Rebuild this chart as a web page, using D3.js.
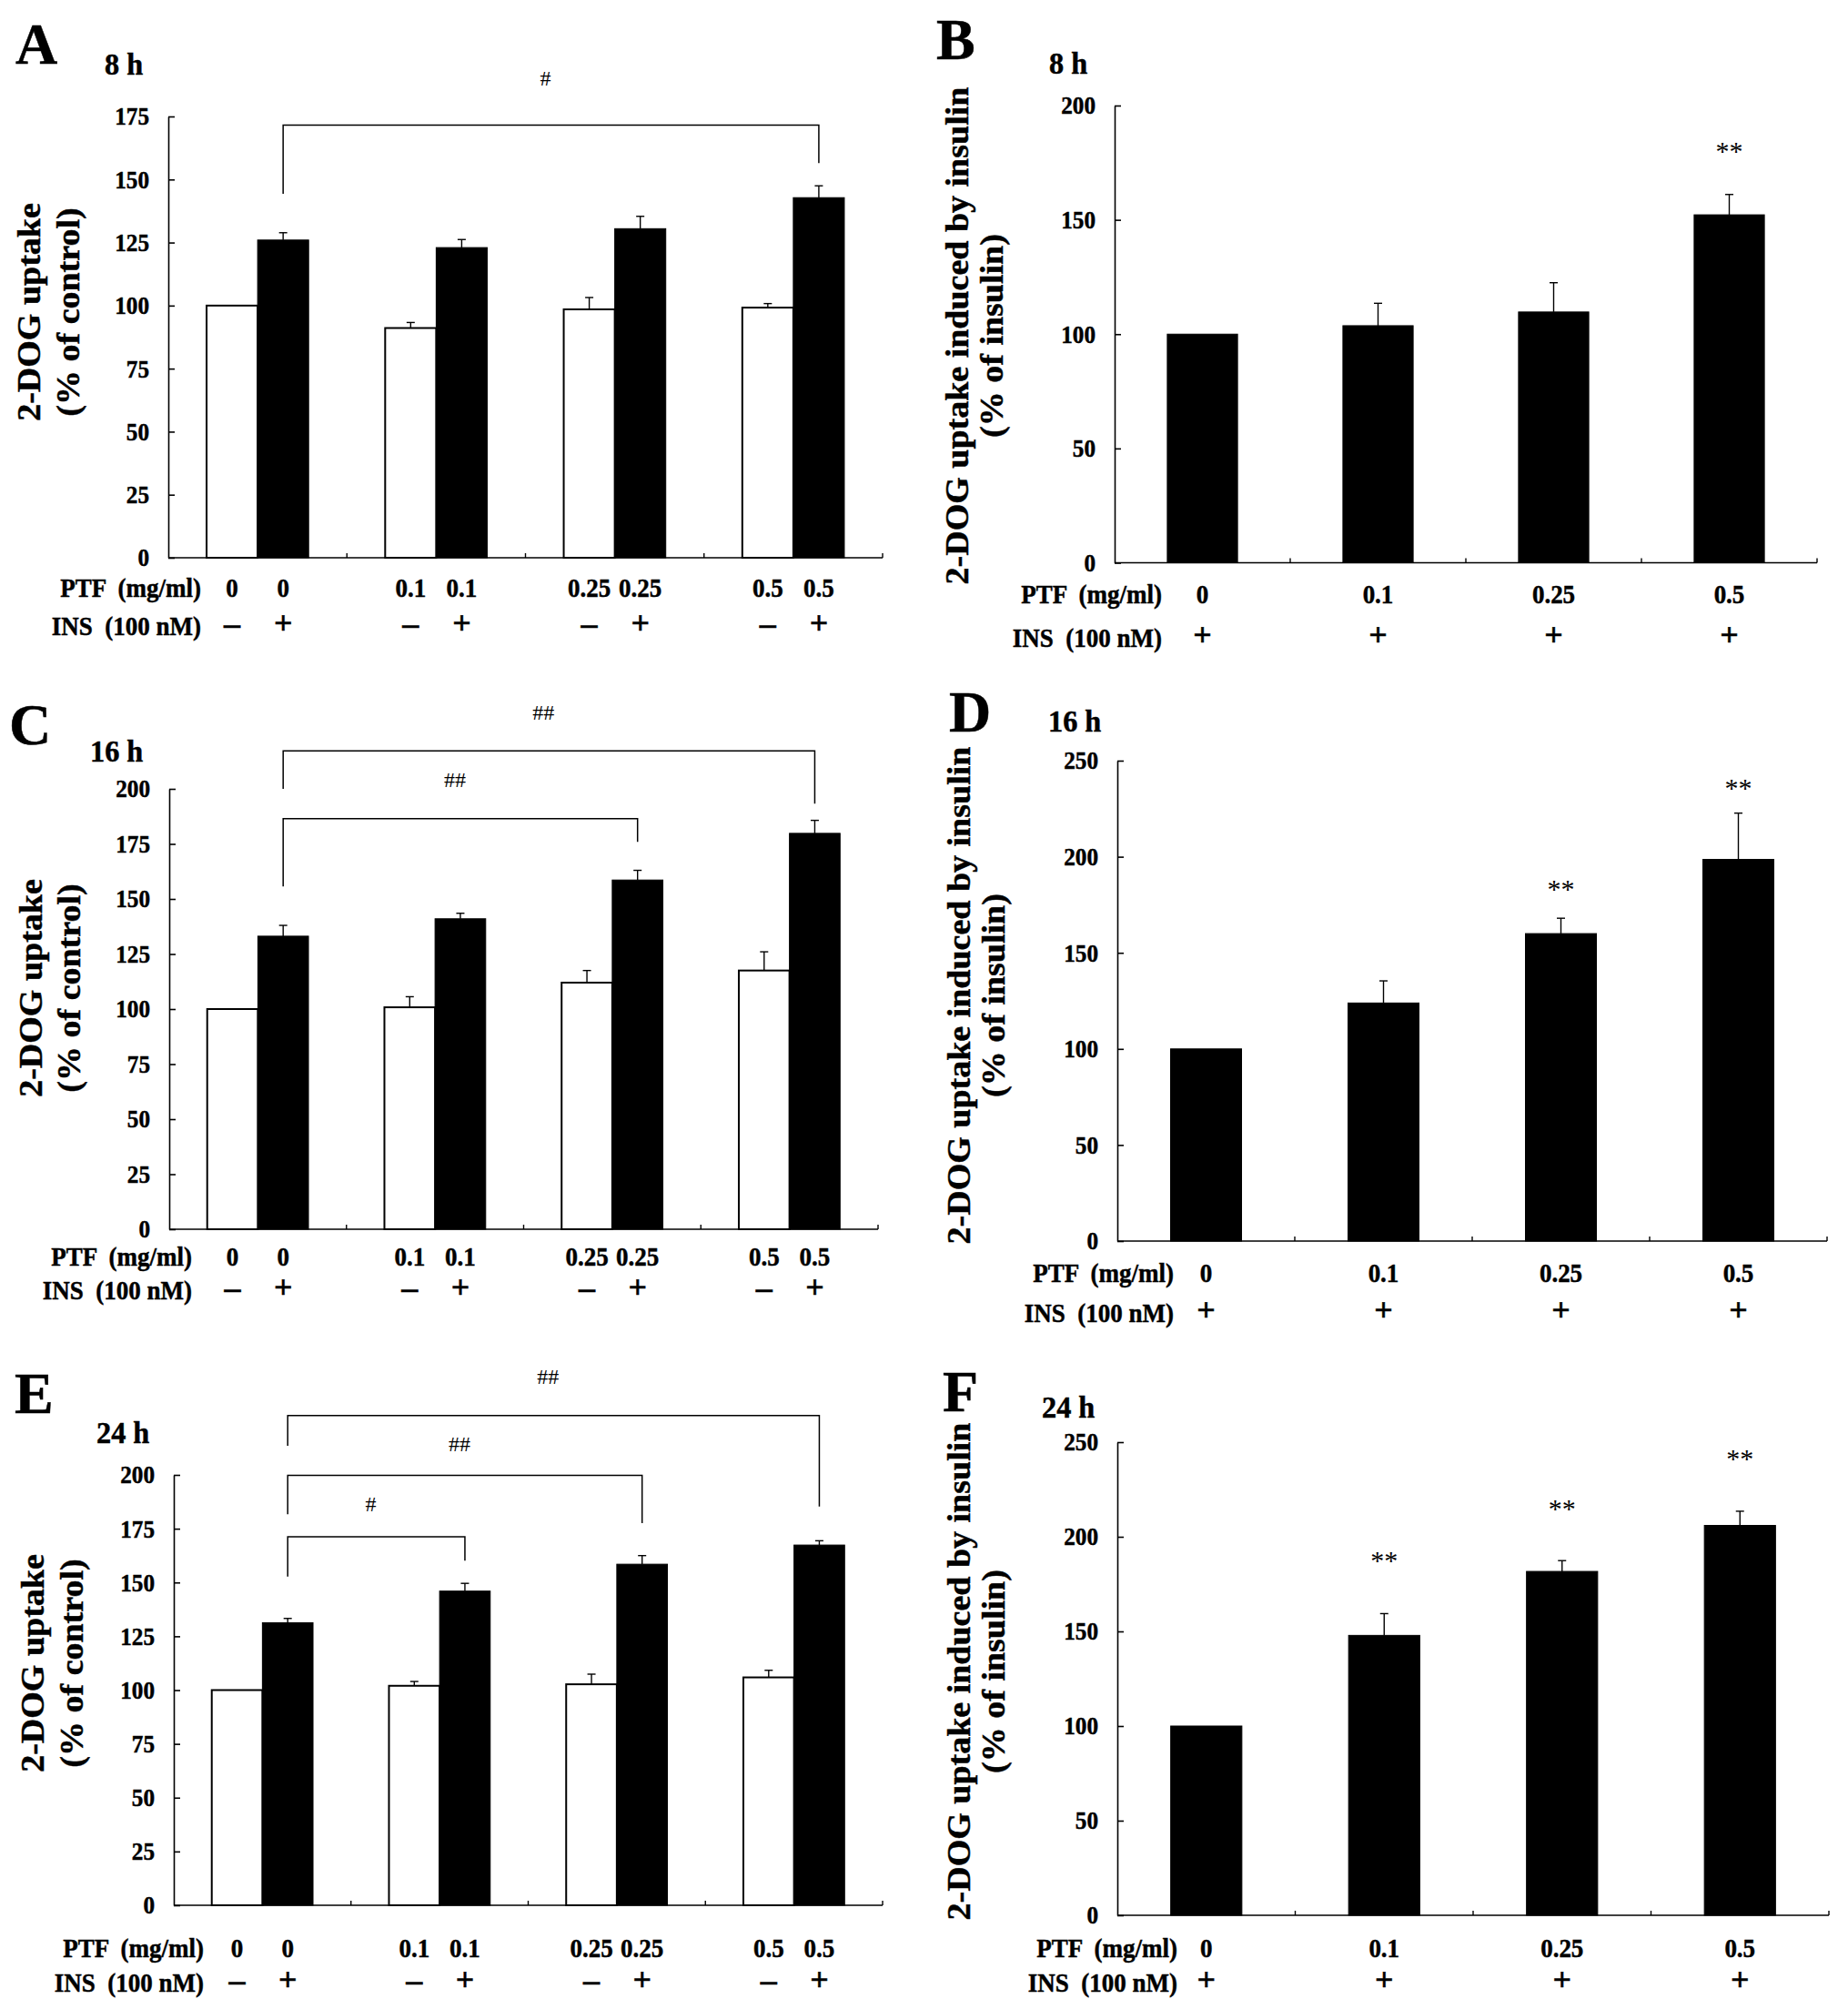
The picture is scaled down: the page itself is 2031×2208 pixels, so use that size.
<!DOCTYPE html>
<html><head><meta charset="utf-8">
<script src="https://cdn.jsdelivr.net/npm/d3@7"></script>
<style>
body{margin:0;background:#fff}
text{font-family:"Liberation Serif","Times New Roman",Times,serif;fill:#000}
</style>
</head><body>
<svg id="fig" width="2031" height="2208"></svg>
<script>
// ---------- data ----------
const doses = ["0", "0.1", "0.25", "0.5"];
const insSignsLeft = ["–", "+"];   // INS − / INS + per pair
const insSignRight = "+";
const rowPTF = "PTF  (mg/ml)";
const rowINS = "INS  (100 nM)";
const titleLeft = ["2-DOG uptake", "(% of control)"];
const titleRight = ["2-DOG uptake induced by insulin", "(% of insulin)"];

const ticksA = [0, 25, 50, 75, 100, 125, 150, 175];
const ticksCE = [0, 25, 50, 75, 100, 125, 150, 175, 200];
const ticksB = [0, 50, 100, 150, 200];
const ticksDF = [0, 50, 100, 150, 200, 250];

// Panel A (8 h)
const aWhite = [100, 91.1, 98.5, 99.2];
const aWhiteErr = [0, 2.2, 4.7, 1.6];
const aBlack = [126, 123, 130.5, 142.8];
const aBlackErr = [2.9, 3.2, 4.9, 4.7];
// Panel B (8 h)
const bVals = [100, 103.7, 109.7, 152.2];
const bErr = [0, 9.8, 12.8, 8.9];
// Panel C (16 h)
const cWhite = [100, 100.8, 112, 117.5];
const cWhiteErr = [0, 4.8, 5.5, 8.5];
const cBlack = [133.1, 141, 158.6, 179.8];
const cBlackErr = [4.9, 2.5, 4.4, 5.9];
// Panel D (16 h)
const dVals = [100, 123.9, 160, 198.6];
const dErr = [0, 11.5, 8, 24.1];
// Panel E (24 h)
const eWhite = [100, 102, 102.7, 105.9];
const eWhiteErr = [0, 2, 4.7, 3.3];
const eBlack = [131.3, 146, 158.5, 167.4];
const eBlackErr = [2, 3.6, 4, 2];
// Panel F (24 h)
const fVals = [100, 147.9, 181.7, 206];
const fErr = [0, 11.5, 5.7, 7.5];

// significance brackets (values in axis units): from group, to group, bar level, left leg end, right leg end, label, label level
const bracketsA = [{from: 0, to: 3, at: 171.6, l: 144.3, r: 156.5, label: "#", ly: 190}];
const bracketsC = [
  {from: 0, to: 3, at: 217.3, l: 200, r: 193.3, label: "##", ly: 234.7},
  {from: 0, to: 2, at: 186.5, l: 155.7, r: 175.9, label: "##", ly: 203.9}
];
const bracketsE = [
  {from: 0, to: 3, at: 227.6, l: 213.5, r: 185.3, label: "##", ly: 245.7},
  {from: 0, to: 2, at: 199.8, l: 181.7, r: 177.6, label: "##", ly: 214.5},
  {from: 0, to: 1, at: 171.2, l: 152.7, r: 160.1, label: "#", ly: 186.3}
];
const starsB = [{i: 3, at: 182}];
const starsD = [{i: 2, at: 185.6}, {i: 3, at: 238}];
const starsF = [{i: 1, at: 190}, {i: 2, at: 217.2}, {i: 3, at: 243.6}];

// ---------- layout ----------
const SX = 0.9;
const svg = d3.select("#fig");

function txt(g, x, y, s, o) {
  o = o || {};
  const bold = (o.weight || "bold") === "bold";
  const t = g.append("text")
    .attr("transform", `translate(${x},${y}) scale(${o.sx || SX},1)` + (o.rot ? " rotate(-90)" : ""))
    .attr("text-anchor", o.anchor || "middle")
    .attr("font-size", o.fs || 28)
    .attr("font-weight", o.weight || "bold")
    .style("white-space", "pre")
    .text(s);
  if (bold) t.attr("stroke", "#000").attr("stroke-width", 0.5);
  if (o.dy) t.attr("dy", o.dy);
  return t;
}

function yAxis(g, y, ticks, x0) {
  const ax = g.append("g").attr("transform", `translate(${x0},0)`)
    .call(d3.axisLeft(y).tickValues(ticks).tickSize(-7).tickSizeOuter(0).tickPadding(21).tickFormat(d3.format("d")));
  ax.select(".domain").attr("stroke", "#000").attr("stroke-width", 1.6);
  ax.selectAll(".tick line").attr("stroke", "#000").attr("stroke-width", 1.6);
  ax.selectAll(".tick text").each(function () {
    const t = d3.select(this);
    t.attr("transform", `translate(-21,0) scale(${SX},1)`).attr("x", 0)
      .attr("font-size", 28).attr("font-weight", "bold")
      .attr("stroke", "#000").attr("stroke-width", 0.5)
      .attr("font-family", '"Liberation Serif","Times New Roman",serif').attr("fill", "#000");
  });
}

function xAxis(g, x, L) {
  g.append("line").attr("x1", L.x0).attr("x2", L.x1).attr("y1", L.y0).attr("y2", L.y0)
    .attr("stroke", "#000").attr("stroke-width", 1.6);
  const bounds = x.domain().map(d => x(d) + x.step());
  g.selectAll(".xt").data(bounds).join("line").attr("class", "xt")
    .attr("x1", d => d).attr("x2", d => d).attr("y1", L.y0).attr("y2", L.y0 - 5)
    .attr("stroke", "#000").attr("stroke-width", 1.4);
}

function errBar(g, cx, y, v, e) {
  if (!e) return;
  g.append("line").attr("x1", cx).attr("x2", cx).attr("y1", y(v)).attr("y2", y(v + e))
    .attr("stroke", "#000").attr("stroke-width", 1.4);
  g.append("line").attr("x1", cx - 4.5).attr("x2", cx + 4.5).attr("y1", y(v + e)).attr("y2", y(v + e))
    .attr("stroke", "#000").attr("stroke-width", 1.4);
}

function heading(g, L, letter, time) {
  txt(g, L.letX, L.letY, letter, {anchor: "start", fs: 64, sx: 1});
  txt(g, L.timeX, L.timeY, time, {anchor: "start", fs: 34, sx: 0.95});
}

function yTitle(g, L, lines) {
  txt(g, L.tb1, L.tcy, lines[0], {fs: 38, rot: true, sx: 0.92});
  txt(g, L.tb2, L.tcy, lines[1], {fs: 38, rot: true, sx: 0.92});
}

function drawGrouped(L, white, whiteErr, black, blackErr, ticks, brackets) {
  const g = svg.append("g");
  const x = d3.scaleBand().domain(doses).range([L.x0, L.x1]).padding(0);
  const xs = d3.scaleBand().domain([0, 1]).range([0, x.bandwidth()]).paddingInner(0).paddingOuter(0.75);
  const y = d3.scaleLinear().domain([0, L.max]).range([L.y0, L.yTop]);
  const cx = (i, s) => x(doses[i]) + xs(s) + xs.bandwidth() / 2;

  const data = doses.map((d, i) => ({d, i, w: white[i], we: whiteErr[i], b: black[i], be: blackErr[i]}));
  g.selectAll(".wb").data(data).join("rect").attr("class", "wb")
    .attr("x", d => x(d.d) + xs(0)).attr("width", xs.bandwidth())
    .attr("y", d => y(d.w)).attr("height", d => y(0) - y(d.w))
    .attr("fill", "#fff").attr("stroke", "#000").attr("stroke-width", 2);
  g.selectAll(".bb").data(data).join("rect").attr("class", "bb")
    .attr("x", d => x(d.d) + xs(1)).attr("width", xs.bandwidth())
    .attr("y", d => y(d.b)).attr("height", d => y(0) - y(d.b))
    .attr("fill", "#000").attr("stroke", "#000").attr("stroke-width", 1);
  data.forEach(d => { errBar(g, cx(d.i, 0), y, d.w, d.we); errBar(g, cx(d.i, 1), y, d.b, d.be); });

  yAxis(g, y, ticks, L.x0);
  xAxis(g, x, L);

  brackets.forEach(br => {
    const xl = cx(br.from, 1), xr = cx(br.to, 1);
    g.append("path").attr("d", `M${xl},${y(br.l)}V${y(br.at)}H${xr}V${y(br.r)}`)
      .attr("fill", "none").attr("stroke", "#000").attr("stroke-width", 1.5);
    txt(g, (xl + xr) / 2 - 6, y(br.ly), br.label, {fs: 24, weight: "normal", dy: "0.33em", sx: 1});
  });

  // category rows
  data.forEach(d => {
    [0, 1].forEach(s => {
      txt(g, cx(d.i, s), L.r1, d.d, {fs: 30, dy: "0.35em"});
      txt(g, cx(d.i, s), L.r2, insSignsLeft[s], {fs: 36, sx: 1, dy: "0.28em"});
    });
  });
  txt(g, L.rowX, L.r1, rowPTF, {fs: 30, anchor: "end", dy: "0.35em"});
  txt(g, L.rowX, L.r2, rowINS, {fs: 30, anchor: "end", dy: "0.35em"});
  heading(g, L, L.letter, L.time);
  yTitle(g, L, titleLeft);
}

function drawSingle(L, vals, errs, ticks, stars) {
  const g = svg.append("g");
  const x = d3.scaleBand().domain(doses).range([L.x0, L.x1]).paddingInner(0.6).paddingOuter(0.3);
  const y = d3.scaleLinear().domain([0, L.max]).range([L.y0, L.yTop]);
  const cx = i => x(doses[i]) + x.bandwidth() / 2;
  const data = doses.map((d, i) => ({d, i, v: vals[i], e: errs[i]}));
  g.selectAll(".sb").data(data).join("rect").attr("class", "sb")
    .attr("x", d => x(d.d)).attr("width", x.bandwidth())
    .attr("y", d => y(d.v)).attr("height", d => y(0) - y(d.v))
    .attr("fill", "#000").attr("stroke", "#000").attr("stroke-width", 1);
  data.forEach(d => errBar(g, cx(d.i), y, d.v, d.e));
  yAxis(g, y, ticks, L.x0);
  // x axis with group boundaries
  g.append("line").attr("x1", L.x0).attr("x2", L.x1).attr("y1", L.y0).attr("y2", L.y0)
    .attr("stroke", "#000").attr("stroke-width", 1.6);
  const step = (L.x1 - L.x0) / doses.length;
  const bounds = doses.map((d, i) => x(d) - x.bandwidth() * 0.75 + step);
  g.selectAll(".xt").data(bounds).join("line").attr("class", "xt")
    .attr("x1", d => d).attr("x2", d => d).attr("y1", L.y0).attr("y2", L.y0 - 5)
    .attr("stroke", "#000").attr("stroke-width", 1.4);
  stars.forEach(s => txt(g, cx(s.i), y(s.at), "**", {fs: 30, weight: "normal", dy: "0.5em", sx: 1}));
  data.forEach(d => {
    txt(g, cx(d.i), L.r1, d.d, {fs: 30, dy: "0.35em"});
    txt(g, cx(d.i), L.r2, insSignRight, {fs: 36, sx: 1, dy: "0.28em"});
  });
  txt(g, L.rowX, L.r1, rowPTF, {fs: 30, anchor: "end", dy: "0.35em"});
  txt(g, L.rowX, L.r2, rowINS, {fs: 30, anchor: "end", dy: "0.35em"});
  heading(g, L, L.letter, L.time);
  yTitle(g, L, titleRight);
}

const layA = {x0: 185, x1: 970, y0: 613, yTop: 128, max: 175, r1: 645, r2: 687, rowX: 221,
  letter: "A", letX: 17, letY: 70, time: "8 h", timeX: 115, timeY: 82, tb1: 44, tb2: 87, tcy: 343};
const layC = {x0: 186, x1: 965, y0: 1351, yTop: 867, max: 200, r1: 1380, r2: 1417, rowX: 211,
  letter: "C", letX: 10, letY: 818, time: "16 h", timeX: 99, timeY: 837, tb1: 46, tb2: 88, tcy: 1086};
const layE = {x0: 191, x1: 970, y0: 2094, yTop: 1621, max: 200, r1: 2140, r2: 2178, rowX: 224,
  letter: "E", letX: 16, letY: 1553, time: "24 h", timeX: 106, timeY: 1586, tb1: 48, tb2: 91, tcy: 1828};
const layB = {x0: 1225, x1: 1997, y0: 618.5, yTop: 116, max: 200, r1: 652, r2: 700, rowX: 1277,
  letter: "B", letX: 1029, letY: 65, time: "8 h", timeX: 1153, timeY: 81, tb1: 1064, tb2: 1102, tcy: 369};
const layD = {x0: 1228, x1: 2008, y0: 1364, yTop: 836, max: 250, r1: 1398, r2: 1442, rowX: 1290,
  letter: "D", letX: 1043, letY: 804, time: "16 h", timeX: 1152, timeY: 804, tb1: 1066, tb2: 1104, tcy: 1094};
const layF = {x0: 1228, x1: 2010, y0: 2105, yTop: 1585, max: 250, r1: 2140, r2: 2178, rowX: 1294,
  letter: "F", letX: 1036, letY: 1551, time: "24 h", timeX: 1145, timeY: 1558, tb1: 1066, tb2: 1104, tcy: 1837};

drawGrouped(layA, aWhite, aWhiteErr, aBlack, aBlackErr, ticksA, bracketsA);
drawGrouped(layC, cWhite, cWhiteErr, cBlack, cBlackErr, ticksCE, bracketsC);
drawGrouped(layE, eWhite, eWhiteErr, eBlack, eBlackErr, ticksCE, bracketsE);
drawSingle(layB, bVals, bErr, ticksB, starsB);
drawSingle(layD, dVals, dErr, ticksDF, starsD);
drawSingle(layF, fVals, fErr, ticksDF, starsF);
</script>
</body></html>
